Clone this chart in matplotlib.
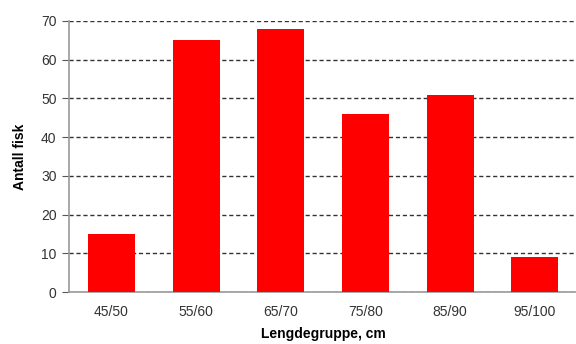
import matplotlib
matplotlib.use("Agg")
import matplotlib.pyplot as plt

plt.rcParams['font.family'] = ['Liberation Sans', 'DejaVu Sans']

categories = ["45/50", "55/60", "65/70", "75/80", "85/90", "95/100"]
counts = [15, 65, 68, 46, 51, 9]
y_ticks = [0, 10, 20, 30, 40, 50, 60, 70]

fig = plt.figure(figsize=(5.76, 3.44), dpi=100)
ax = fig.add_axes([0.1198, 0.151, 0.882, 0.788])

x = range(len(categories))
ax.bar(x, counts, width=0.555, color="#ff0000", zorder=3)

ax.set_xlim(-0.5, len(categories) - 0.5)
ax.set_ylim(0, 70)
ax.set_yticks(y_ticks)
ax.set_xticks(list(x))
ax.set_xticklabels(categories)

ax.yaxis.grid(True, linestyle=(0, (3, 2)), color="#333333", linewidth=1.0, zorder=0)
ax.set_axisbelow(True)

for side in ("top", "right"):
    ax.spines[side].set_visible(False)
for side in ("left", "bottom"):
    ax.spines[side].set_color("#9a9a9a")
    ax.spines[side].set_linewidth(1.2)

ax.tick_params(axis="y", length=5, color="#555555", labelsize=10, labelcolor="#333333", pad=4)
ax.tick_params(axis="x", length=0, labelsize=10, labelcolor="#333333", pad=9)

ax.set_ylabel("Antall fisk", fontsize=10, fontweight="bold", labelpad=10)
ax.set_xlabel("Lengdegruppe, cm", fontsize=10, fontweight="bold", labelpad=6)

fig.savefig("out.png", dpi=100)
